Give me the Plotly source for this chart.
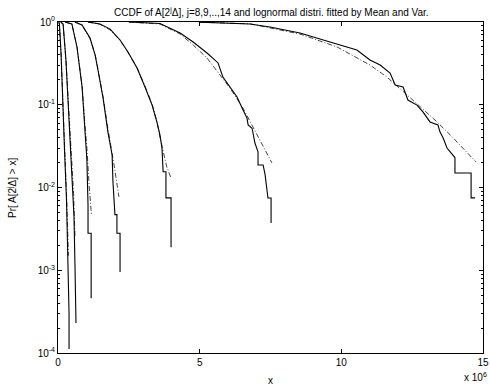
import plotly.graph_objects as go

# Empirical CCDFs (x in units of 1e6), j = 8..14
emp_x = [
    [0.03, 0.05, 0.11, 0.16, 0.23, 0.30, 0.353, 0.39, 0.39],
    [0.10, 0.18, 0.28, 0.35, 0.46, 0.565, 0.60, 0.635, 0.635],
    [0.25, 0.49, 0.67, 0.85, 0.95, 1.02, 1.06, 1.06, 1.17, 1.17],
    [0.60, 0.85, 1.13, 1.31, 1.41, 1.59, 1.76, 1.91, 1.94, 2.01, 2.08, 2.08, 2.19, 2.19],
    [1.06, 1.48, 1.84, 2.19, 2.47, 2.79, 3.07, 3.32, 3.49, 3.60, 3.67, 3.71, 3.81, 3.81, 3.99, 3.99],
    [2.50, 3.60, 4.31, 4.77, 5.26, 5.65, 5.82, 6.07, 6.32, 6.53, 6.67, 6.71, 6.85, 6.95, 7.06,
     7.06, 7.24, 7.31, 7.38, 7.41, 7.52, 7.52],
    [5.01, 6.78, 7.48, 8.54, 9.60, 10.55, 11.01, 11.37, 11.72, 11.90, 12.18, 12.35, 12.67, 12.88,
     13.13, 13.41, 13.48, 13.59, 13.73, 14.01, 14.01, 14.58, 14.58, 14.72],
]
emp_y = [
    [1.0, 0.946, 0.40, 0.114, 0.0284, 0.0071, 0.00133, 0.00030, 0.000112],
    [1.0, 0.946, 0.347, 0.114, 0.0284, 0.0044, 0.0011, 0.0004, 0.00023],
    [1.0, 0.946, 0.499, 0.164, 0.0495, 0.0215, 0.006, 0.0028, 0.0028, 0.00046],
    [1.0, 0.92, 0.64, 0.40, 0.263, 0.121, 0.047, 0.0247, 0.0116, 0.0047, 0.0047, 0.0028, 0.0028, 0.00095],
    [1.0, 0.946, 0.82, 0.606, 0.434, 0.278, 0.164, 0.099, 0.062, 0.043, 0.030, 0.0155, 0.0155, 0.0075, 0.0075, 0.0019],
    [1.0, 0.96, 0.736, 0.573, 0.422, 0.32, 0.216, 0.164, 0.124, 0.0865, 0.069, 0.057, 0.052, 0.0345, 0.027,
     0.0187, 0.0187, 0.0142, 0.00986, 0.00746, 0.00746, 0.00372],
    [0.995, 0.946, 0.87, 0.736, 0.573, 0.459, 0.347, 0.302, 0.242, 0.173, 0.164, 0.114, 0.099, 0.082,
     0.062, 0.057, 0.047, 0.040, 0.030, 0.023, 0.015, 0.015, 0.0075, 0.0075],
]

# Lognormal fits (mean & variance matched)
fit_x = [
    [0.03, 0.05, 0.11, 0.16, 0.23, 0.30, 0.37],
    [0.10, 0.18, 0.28, 0.35, 0.46, 0.55, 0.60],
    [0.25, 0.49, 0.67, 0.85, 0.95, 1.02, 1.10, 1.18],
    [0.60, 0.85, 1.13, 1.31, 1.41, 1.59, 1.76, 1.91, 2.01, 2.15],
    [1.06, 1.48, 1.84, 2.19, 2.47, 2.79, 3.07, 3.32, 3.49, 3.60, 3.84, 3.99],
    [2.50, 3.60, 4.31, 4.77, 5.26, 5.65, 6.07, 6.53, 6.88, 7.24, 7.55],
    [5.01, 6.78, 8.54, 9.85, 11.01, 11.61, 12.18, 12.78, 13.38, 13.94, 14.54, 14.75],
]
fit_y = [
    [0.998, 0.93, 0.40, 0.12, 0.033, 0.0085, 0.0015],
    [0.998, 0.93, 0.35, 0.12, 0.032, 0.0085, 0.0025],
    [0.998, 0.94, 0.50, 0.17, 0.058, 0.030, 0.0105, 0.0047],
    [0.998, 0.91, 0.63, 0.40, 0.27, 0.125, 0.052, 0.027, 0.016, 0.0077],
    [0.998, 0.94, 0.80, 0.60, 0.43, 0.28, 0.168, 0.103, 0.063, 0.040, 0.0177, 0.013],
    [0.998, 0.946, 0.716, 0.527, 0.367, 0.249, 0.159, 0.091, 0.054, 0.0326, 0.0198],
    [0.995, 0.95, 0.716, 0.499, 0.302, 0.216, 0.145, 0.095, 0.062, 0.040, 0.0245, 0.0204],
]

y_tickvals = [1e-4, 1e-3, 1e-2, 1e-1, 1]
y_ticktext = ["10<sup>-4</sup>", "10<sup>-3</sup>", "10<sup>-2</sup>", "10<sup>-1</sup>", "10<sup>0</sup>"]
x_tickvals = [0, 5, 10, 15]
x_ticktext = ["0", "5", "10", "15"]

fig = go.Figure()
for xs, ys in zip(fit_x, fit_y):
    fig.add_trace(go.Scatter(x=xs, y=ys, mode="lines",
                             line=dict(color="#444444", width=1, dash="5px,2px,1px,2px"),
                             showlegend=False, hoverinfo="skip"))
for xs, ys in zip(emp_x, emp_y):
    fig.add_trace(go.Scatter(x=xs, y=ys, mode="lines",
                             line=dict(color="black", width=1.1),
                             showlegend=False, hoverinfo="skip"))

font = "Liberation Sans, Arial, sans-serif"
W, H = 490, 389
L, R, T, B = 58, 7, 22, 36
pw, ph = W - L - R, H - T - B


def px(xp):
    return (xp - L) / pw


def py(yp):
    return (H - B - yp) / ph


fig.update_layout(
    width=W, height=H,
    margin=dict(l=L, r=R, t=T, b=B, autoexpand=False),
    paper_bgcolor="white", plot_bgcolor="white",
    font=dict(family=font, size=10, color="black"),
    xaxis=dict(range=[0, 15], tickvals=x_tickvals, ticktext=x_ticktext, automargin=False,
               showline=True, linecolor="black", linewidth=1, mirror="ticks",
               ticks="inside", ticklen=4, tickcolor="black", showgrid=False, zeroline=False),
    yaxis=dict(type="log", range=[-4, 0], tickvals=y_tickvals, ticktext=y_ticktext, automargin=False,
               showline=True, linecolor="black", linewidth=1, mirror="ticks",
               ticks="inside", ticklen=4, tickcolor="black", showgrid=False, zeroline=False,
               minor=dict(ticks="inside", ticklen=2, tickcolor="black", dtick="D1", showgrid=False)),
    annotations=[
        dict(text="CCDF of A[2<sup>j</sup>Δ], j=8,9,..,14 and lognormal distri. fitted by Mean and Var.",
             xref="paper", yref="paper", x=px(271), y=py(12), xanchor="center", yanchor="middle",
             showarrow=False, font=dict(size=10)),
        dict(text="x", xref="paper", yref="paper", x=px(270.5), y=py(380),
             xanchor="center", yanchor="middle", showarrow=False, font=dict(size=10)),
        dict(text="Pr[ A[2<sup>j</sup>Δ] > x]", xref="paper", yref="paper", x=px(12), y=py(188),
             xanchor="center", yanchor="middle", textangle=-90, showarrow=False, font=dict(size=10)),
        dict(text="x 10<sup>6</sup>", xref="paper", yref="paper",
             x=px(489), y=py(377), xanchor="right", yanchor="middle",
             showarrow=False, font=dict(size=10)),
    ],
)

fig.write_html("out.html", config={"displayModeBar": False},
               post_script="document.body.style.margin='0';document.body.style.overflow='hidden';")
